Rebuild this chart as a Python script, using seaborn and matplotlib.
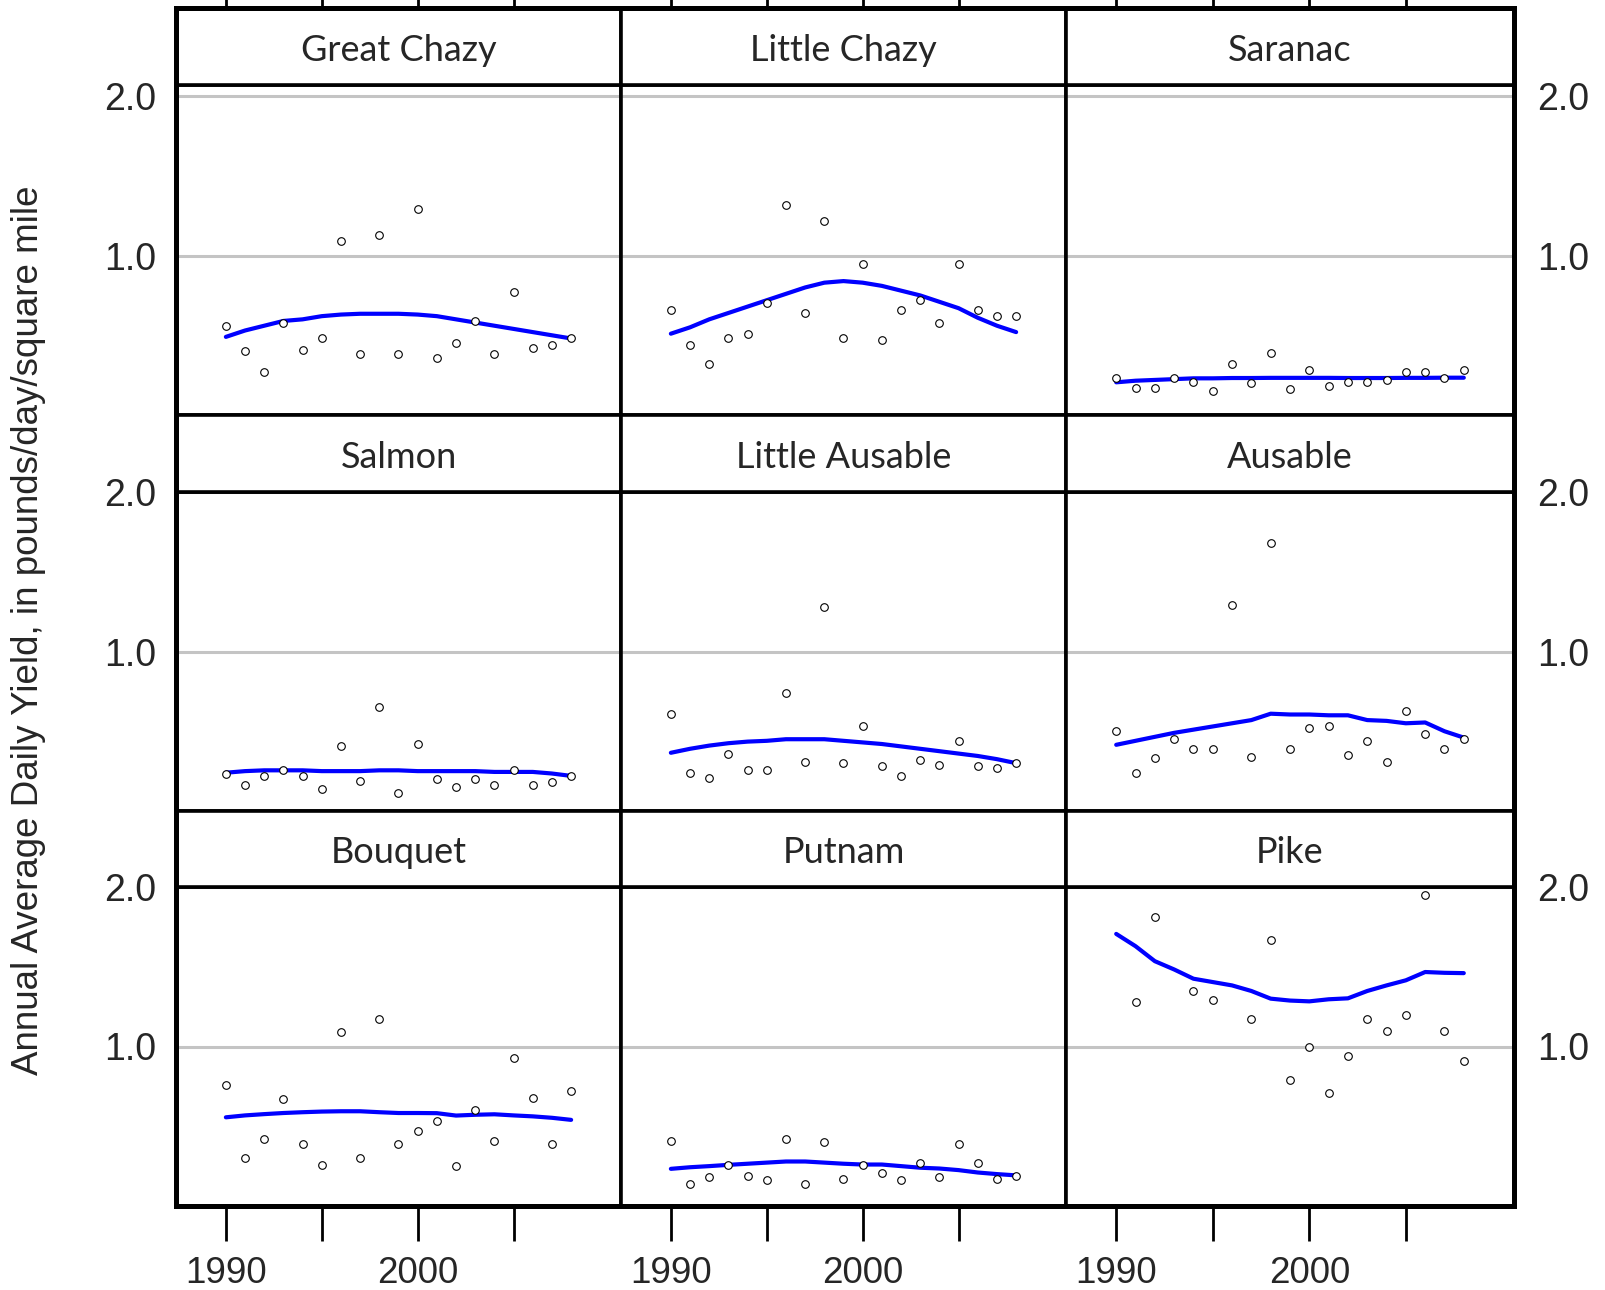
import pandas as pd
import matplotlib
matplotlib.use('Agg')
import matplotlib.pyplot as plt
import seaborn as sns

sns.set_theme(style='white')
plt.rcParams['font.family'] = ['Liberation Sans', 'DejaVu Sans']

# ---- data ----
rivers = ['Great Chazy', 'Little Chazy', 'Saranac',
          'Salmon', 'Little Ausable', 'Ausable',
          'Bouquet', 'Putnam', 'Pike']

years = [1990, 1991, 1992, 1993, 1994, 1995, 1996, 1997, 1998, 1999,
         2000, 2001, 2002, 2003, 2004, 2005, 2006, 2007, 2008]
pike_years = [1991, 1992, 1994, 1995, 1997, 1998, 1999, 2000,
              2001, 2002, 2003, 2004, 2005, 2006, 2007, 2008]

great_chazy = [0.56, 0.40, 0.27, 0.58, 0.41, 0.48, 1.09, 0.38, 1.13, 0.38,
               1.29, 0.36, 0.45, 0.59, 0.38, 0.77, 0.42, 0.44, 0.48]
little_chazy = [0.66, 0.44, 0.32, 0.48, 0.51, 0.70, 1.32, 0.64, 1.22, 0.48,
                0.95, 0.47, 0.66, 0.72, 0.58, 0.95, 0.66, 0.62, 0.62]
saranac = [0.23, 0.17, 0.17, 0.23, 0.21, 0.15, 0.32, 0.20, 0.39, 0.16,
           0.28, 0.18, 0.21, 0.21, 0.22, 0.27, 0.27, 0.23, 0.28]
salmon = [0.23, 0.16, 0.22, 0.26, 0.22, 0.14, 0.41, 0.19, 0.65, 0.11,
          0.42, 0.20, 0.15, 0.20, 0.16, 0.26, 0.16, 0.18, 0.22]
little_ausable = [0.61, 0.24, 0.21, 0.36, 0.26, 0.26, 0.74, 0.31, 1.28, 0.30,
                  0.53, 0.28, 0.22, 0.32, 0.29, 0.44, 0.28, 0.27, 0.30]
ausable = [0.50, 0.24, 0.33, 0.45, 0.39, 0.39, 1.29, 0.34, 1.68, 0.39,
           0.52, 0.53, 0.35, 0.44, 0.31, 0.63, 0.48, 0.39, 0.45]
bouquet = [0.76, 0.30, 0.42, 0.67, 0.39, 0.26, 1.09, 0.30, 1.17, 0.39,
           0.47, 0.53, 0.25, 0.60, 0.41, 0.93, 0.68, 0.39, 0.72]
putnam = [0.41, 0.14, 0.18, 0.26, 0.19, 0.16, 0.42, 0.14, 0.40, 0.17,
          0.26, 0.21, 0.16, 0.27, 0.18, 0.39, 0.27, 0.17, 0.19]
pike = [1.28, 1.81, 1.35, 1.29, 1.17, 1.67, 0.79, 1.00,
        0.71, 0.94, 1.17, 1.10, 1.20, 1.95, 1.10, 0.91]

# smoothed (lowess) curves, sampled yearly 1990-2008
great_chazy_fit = [0.49, 0.53, 0.56, 0.59, 0.60, 0.62, 0.63, 0.635, 0.635, 0.635,
                   0.63, 0.62, 0.60, 0.58, 0.56, 0.54, 0.52, 0.50, 0.48]
little_chazy_fit = [0.51, 0.55, 0.60, 0.64, 0.68, 0.72, 0.76, 0.80, 0.83, 0.84,
                    0.83, 0.81, 0.78, 0.75, 0.71, 0.67, 0.61, 0.56, 0.52]
saranac_fit = [0.205, 0.215, 0.22, 0.225, 0.23, 0.23, 0.232, 0.232, 0.233, 0.233,
               0.233, 0.233, 0.232, 0.232, 0.232, 0.233, 0.233, 0.234, 0.234]
salmon_fit = [0.24, 0.25, 0.255, 0.255, 0.255, 0.25, 0.25, 0.25, 0.255, 0.255,
              0.25, 0.25, 0.25, 0.25, 0.245, 0.245, 0.245, 0.235, 0.22]
little_ausable_fit = [0.365, 0.39, 0.41, 0.425, 0.435, 0.44, 0.45, 0.45, 0.45, 0.44,
                      0.43, 0.42, 0.405, 0.39, 0.375, 0.36, 0.345, 0.325, 0.30]
ausable_fit = [0.415, 0.44, 0.465, 0.49, 0.51, 0.53, 0.55, 0.57, 0.61, 0.605,
               0.605, 0.60, 0.60, 0.57, 0.565, 0.55, 0.555, 0.50, 0.46]
bouquet_fit = [0.556, 0.568, 0.576, 0.583, 0.588, 0.592, 0.594, 0.594, 0.588, 0.583,
               0.583, 0.582, 0.567, 0.572, 0.575, 0.568, 0.562, 0.553, 0.54]
putnam_fit = [0.233, 0.243, 0.25, 0.258, 0.265, 0.272, 0.279, 0.279, 0.272, 0.265,
              0.26, 0.26, 0.25, 0.24, 0.235, 0.225, 0.21, 0.20, 0.192]
pike_fit = [1.706, 1.629, 1.535, 1.483, 1.425, 1.404, 1.383, 1.348, 1.30, 1.288,
            1.283, 1.296, 1.302, 1.348, 1.383, 1.415, 1.467, 1.462, 1.46]

point_years = [years] * 8 + [pike_years]
point_vals = [great_chazy, little_chazy, saranac, salmon, little_ausable,
              ausable, bouquet, putnam, pike]
fit_vals = [great_chazy_fit, little_chazy_fit, saranac_fit, salmon_fit,
            little_ausable_fit, ausable_fit, bouquet_fit, putnam_fit, pike_fit]

points = pd.concat([pd.DataFrame({'river': r, 'year': yy, 'yld': vv})
                    for r, yy, vv in zip(rivers, point_years, point_vals)])
fits = pd.concat([pd.DataFrame({'river': r, 'year': years, 'yld': vv})
                  for r, vv in zip(rivers, fit_vals)])

# ---- plot ----
W, H = 1606, 1290
g = sns.FacetGrid(points, col='river', col_wrap=3, col_order=rivers,
                  sharex=False, sharey=False, height=4, aspect=1.1)
g.map_dataframe(sns.scatterplot, x='year', y='yld', marker='o', s=30,
                color='white', edgecolor='black', linewidth=0.8, zorder=3)
for name, ax in g.axes_dict.items():
    sns.lineplot(data=fits[fits['river'] == name], x='year', y='yld', ax=ax,
                 color='#0000ff', lw=3.0, zorder=2)
g.set_titles('')
g.set_axis_labels('', '')
fig = g.figure
fig.set_size_inches(W / 100, H / 100)

col_px = [(176, 621), (621, 1066), (1066, 1514)]
strip_px = [(8, 85), (415, 492), (811, 887)]
panel_px = [(85, 415), (492, 811), (887, 1206)]
ytop = [2.07, 2.0, 2.0]
xlim = (1987.4, 2010.6)


def frac(x0, x1, y0, y1):
    return [x0 / W, 1 - y1 / H, (x1 - x0) / W, (y1 - y0) / H]


for i, name in enumerate(rivers):
    r, c = divmod(i, 3)
    ax = g.axes_dict[name]
    ax.set_position(frac(*col_px[c], *panel_px[r]))
    ax.set_xlim(*xlim)
    ax.set_ylim(0, ytop[r])
    ax.axhline(1.0, color='#c4c4c4', lw=2.2, zorder=0)
    ax.axhline(2.0, color='#c4c4c4', lw=2.2, zorder=0)
    for sp in ax.spines.values():
        sp.set_visible(True)
        sp.set_color('black')
        sp.set_linewidth(2.6)

    ax.set_xticks([1990, 1995, 2000, 2005])
    if r == 2:
        ax.set_xticklabels(['1990', '', '2000', ''])
        ax.tick_params(axis='x', bottom=True, direction='out', length=25,
                       width=2, color='black', labelsize=26.5, pad=11)
    else:
        ax.tick_params(axis='x', bottom=False, labelbottom=False)

    ax.set_yticks([1.0, 2.0])
    ax.set_yticklabels(['1.0', '2.0'])
    if c == 0:
        ax.tick_params(axis='y', left=True, length=0, labelsize=27, pad=14)
    elif c == 2:
        ax.yaxis.tick_right()
        ax.tick_params(axis='y', right=True, length=0, labelsize=27, pad=17)
    else:
        ax.tick_params(axis='y', left=False, labelleft=False)

    # strip with the river name
    sax = fig.add_axes(frac(*col_px[c], *strip_px[r]))
    sax.set_xlim(*xlim)
    sax.set_yticks([])
    if r == 0:
        sax.set_xticks([1990, 1995, 2000, 2005])
        sax.tick_params(axis='x', top=True, bottom=False, labeltop=False,
                        labelbottom=False, direction='out', length=25,
                        width=2, color='black')
    else:
        sax.set_xticks([])
    for sp in sax.spines.values():
        sp.set_visible(True)
        sp.set_color('black')
        sp.set_linewidth(2.6)
    sax.text(0.5, 0.45, name, transform=sax.transAxes, ha='center',
             va='center', fontsize=26, family=['Lato', 'DejaVu Sans'])

fig.add_artist(plt.Rectangle((176 / W, 1 - 1206 / H), (1514 - 176) / W,
                             (1206 - 8) / H, transform=fig.transFigure,
                             fill=False, lw=3.6, color='black'))

fig.text(29 / W, 1 - 630 / H,
         'Annual Average Daily Yield, in pounds/day/square mile',
         rotation=90, ha='center', va='center', fontsize=26.5)

fig.savefig('out.png', dpi=100)
